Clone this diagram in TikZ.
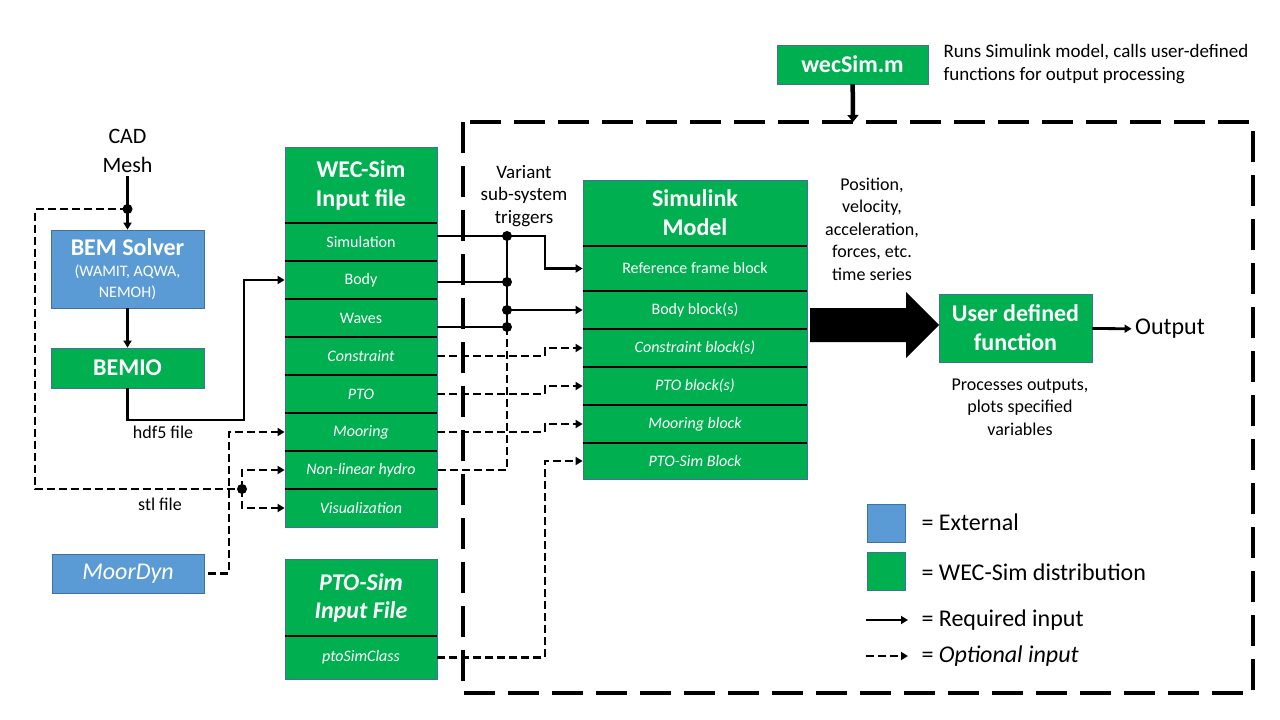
\documentclass[tikz,border=0pt]{standalone}
\usepackage{fontspec}
\setmainfont{Carlito}
\usetikzlibrary{arrows.meta}
\definecolor{wecgreen}{RGB}{0,176,80}
\definecolor{extblue}{RGB}{91,155,213}
\definecolor{boxline}{RGB}{65,113,156}

\begin{document}
\begin{tikzpicture}[x=1pt, y=-1pt,
	block/.style={rectangle, fill=wecgreen, draw=boxline, line width=0.75pt, inner sep=0pt, text=white, align=center},
	ext/.style={block, fill=extblue},
	head/.style={block, minimum width=152pt, font=\fontsize{24}{29}\selectfont\bfseries},
	row/.style={block, minimum width=152pt, minimum height=38pt, font=\fontsize{16}{19}\selectfont},
	optrow/.style={row, font=\fontsize{16}{19}\selectfont\itshape},
	slrow/.style={row, minimum width=224pt},
	sloptrow/.style={optrow, minimum width=224pt},
	sep/.style={line width=2.2pt},
	lbl/.style={align=center, font=\fontsize{18}{22.5}\selectfont},
	keytxt/.style={anchor=west, font=\fontsize{24}{28}\selectfont},
	legbox/.style={rectangle, draw=boxline, line width=0.75pt, minimum size=38pt, inner sep=0pt},
	reqline/.style={line width=2.8pt},
	req/.style={reqline, -{Triangle[length=7pt,width=8pt]}},
	optline/.style={reqline, dash pattern=on 8pt off 4pt},
	opt/.style={optline, -{Triangle[length=7pt,width=8pt]}},
	dot/.style={circle, fill=black, inner sep=0pt, minimum size=10pt},
	frame/.style={line width=4pt, dash pattern=on 31pt off 13pt}]
	\useasboundingbox (0,0) rectangle (1280,720);

	% wecSim.m and its frame
	\draw[frame] (463,122) rectangle (1253,693);
	\node[block, minimum width=151pt, minimum height=39pt, font=\fontsize{24}{29}\selectfont\bfseries] (wecsim) at (852.5,64.5) {wecSim.m};
	\coordinate (frametop) at (853,122);
	\draw[line width=4.5pt, -{Triangle[length=7pt,width=11pt]}] (wecsim) -- (frametop);
	\node[lbl, anchor=west, align=left, font=\fontsize{19}{23}\selectfont] (runs) at (940,64.5) {Runs Simulink model, calls user-defined\\functions for output processing};

	% external tools
	\node[lbl, font=\fontsize{22}{29}\selectfont] (cad) at (127.5,151) {CAD\\Mesh};
	\node[ext, minimum width=153pt, minimum height=78pt, font=\fontsize{16}{21}\selectfont] (bem) at (127.5,269) {{\fontsize{24}{29}\selectfont\bfseries BEM Solver}\\(WAMIT, AQWA,\\NEMOH)};
	\node[block, minimum width=153pt, minimum height=40pt, font=\fontsize{24}{29}\selectfont\bfseries] (bemio) at (127.5,368) {BEMIO};
	\node[ext, minimum width=152pt, minimum height=39pt, font=\fontsize{24}{29}\selectfont\itshape] (moordyn) at (128,573.5) {MoorDyn};

	% WEC-Sim input file
	\node[head, minimum height=76pt] (inhead) at (361,185) {WEC-Sim\\Input file};
	\node[row] (sim) at (361,242) {Simulation};
	\node[row] (body) at (361,280) {Body};
	\node[row] (waves) at (361,318) {Waves};
	\node[optrow] (con) at (361,356) {Constraint};
	\node[optrow] (pto) at (361,394) {PTO};
	\node[optrow] (moor) at (361,432) {Mooring};
	\node[optrow] (nlh) at (361,470) {Non-linear hydro};
	\node[optrow] (vis) at (361,508) {Visualization};
	\foreach \r in {sim,body,waves,con,pto,moor,nlh,vis}
		\draw[sep] (\r.north west) -- (\r.north east);

	% PTO-Sim input file
	\node[head, minimum height=77pt, font=\fontsize{24}{28}\selectfont\bfseries\itshape] (ptohead) at (361,597.5) {PTO-Sim\\Input File};
	\node[optrow, minimum height=43pt] (psc) at (361,657.5) {ptoSimClass};
	\draw[sep] (psc.north west) -- (psc.north east);

	% Simulink model
	\node[head, minimum width=224pt, minimum height=66pt] (slhead) at (695,213) {Simulink\\Model};
	\node[slrow, minimum height=45pt] (ref) at (695,268.5) {Reference frame block};
	\node[slrow] (bblk) at (695,310) {Body block(s)};
	\node[sloptrow] (cblk) at (695,348) {Constraint block(s)};
	\node[sloptrow] (pblk) at (695,386) {PTO block(s)};
	\node[sloptrow] (mblk) at (695,424) {Mooring block};
	\node[sloptrow, minimum height=36pt] (psblk) at (695,461) {PTO-Sim Block};
	\foreach \r in {ref,bblk,cblk,pblk,mblk,psblk}
		\draw[sep] (\r.north west) -- (\r.north east);

	% user defined function
	\node[block, minimum width=153pt, minimum height=68pt, font=\fontsize{24}{29}\selectfont\bfseries] (udf) at (1015.5,328) {User defined\\function};
	\node[lbl, font=\fontsize{24}{29}\selectfont] (out) at (1170,329) {Output};
	\draw[req] (udf) -- (out);
	\fill (810,308) -- (906,308) -- (906,292) -- (939,325) -- (906,358) -- (906,342) -- (810,342) -- cycle;
	\node[lbl] (series) at (872,229) {Position,\\velocity,\\acceleration,\\forces, etc.\\time series};
	\node[lbl] (proc) at (1020,407) {Processes outputs,\\plots specified\\variables};

	% mesh and hdf5 paths
	\coordinate (split) at (127.5,209);
	\coordinate (loop) at (35,0);
	\coordinate (stl) at (242,489);
	\coordinate (hjog) at (244,420);
	\coordinate (mjog) at (229,0);
	\draw[req] (cad) -- (bem);
	\draw[req] (bem) -- (bemio);
	\draw[req] (bemio.south) |- (hjog) |- (body.west);
	\draw[optline] (split) -- (split -| loop) |- (stl);
	\draw[opt] (stl) |- (nlh.west);
	\draw[opt] (stl) |- (vis.west);
	\draw[opt, shorten <=4pt] (moordyn.east) -- (moordyn.east -| mjog) |- (moor.west);
	\node[dot] at (split) {};
	\node[dot] at (stl) {};
	\node[lbl] (hdf) at (163,432) {hdf5 file};
	\node[lbl] (stltxt) at (160,504) {stl file};

	% variant sub-system triggers
	\coordinate (trig) at (507,0);
	\coordinate (jog) at (545,0);
	\coordinate (simout) at ([yshift=6pt]sim.east);
	\coordinate (bodyout) at ([yshift=-2pt]body.east);
	\coordinate (wavesout) at ([yshift=-9pt]waves.east);
	\draw[req] (simout) -- (simout -| jog) |- (ref.west);
	\draw[reqline] (bodyout) -- (bodyout -| trig);
	\draw[reqline] (wavesout) -- (wavesout -| trig);
	\draw[reqline] (simout -| trig) -- (wavesout -| trig);
	\draw[req] (bblk.west -| trig) -- (bblk.west);
	\draw[optline] (wavesout -| trig) |- (nlh.east);
	\draw[opt] (con.east) -- (con.east -| jog) |- (cblk.west);
	\draw[opt] (pto.east) -- (pto.east -| jog) |- (pblk.west);
	\draw[opt] (moor.east) -- (moor.east -| jog) |- (mblk.west);
	\draw[opt] (psc.east) -- (psc.east -| jog) |- (psblk.west);
	\foreach \p in {simout,bodyout,wavesout}
		\node[dot] at (\p -| trig) {};
	\node[dot] at (bblk.west -| trig) {};
	\node[lbl, font=\fontsize{19}{22.5}\selectfont] (trigs) at (524,196) {Variant\\sub-system\\triggers};

	% legend
	\node[legbox, fill=extblue] (keyext) at (886.5,523) {};
	\node[legbox, fill=wecgreen] (keywec) at (886.5,571) {};
	\node[keytxt] (keyexttxt) at (918,522) {= External};
	\node[keytxt] (keywectxt) at (918,572) {= WEC-Sim distribution};
	\node[keytxt] (keyreq) at (918,620) {= Required input};
	\node[keytxt] (keyopt) at (918,656) {= \textit{Optional input}};
	\coordinate (reqtail) at (866,620);
	\coordinate (opttail) at (866,656);
	\draw[req, line width=2pt, shorten >=10pt] (reqtail) -- (keyreq.west);
	\draw[opt, line width=2pt, shorten >=10pt] (opttail) -- (keyopt.west);
\end{tikzpicture}
\end{document}
